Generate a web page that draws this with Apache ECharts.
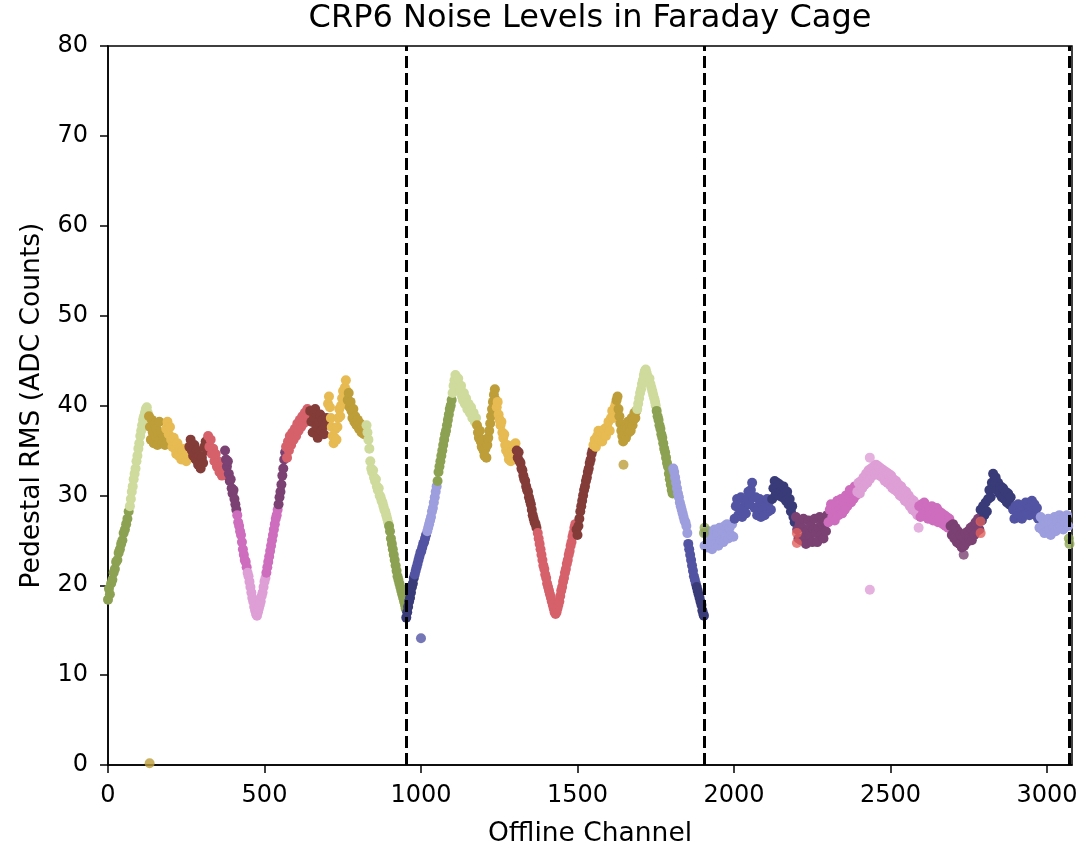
<!DOCTYPE html>
<html><head><meta charset="utf-8">
<script src="https://cdn.jsdelivr.net/npm/echarts@6/dist/echarts.min.js"></script>
<style>html,body{margin:0;padding:0;background:#fff}#chart{width:1089px;height:847px}</style>
</head><body><div id="chart"></div>
<script>
const chartTitle = 'CRP6 Noise Levels in Faraday Cage';
const xName = 'Offline Channel';
const yName = 'Pedestal RMS (ADC Counts)';
const viewBoundaries = [952, 1904, 3072];

// colour groups: first channel of each group and its group name
const groupStarts = [0,68,130,185,258,318,372,412,445,505,545,568,645,702,765,825,898,
  952,980,1020,1052,1101,1178,1242,1305,1373,1496,1550,1624,1690,1752,1805,1853,1880,
  1905,2000,2120,2196,2300,2392,2590,2690,2786,2890,2975];
const groupNames = ['olive','lightgreen','gold','yellow','darkred','red','purple','pink','lightpink','pink','purple','red','darkred','yellow','gold','lightgreen','olive',
  'navy','blue','lightblue','olive','lightgreen','gold','yellow','darkred','red','darkred','yellow','gold','lightgreen','olive','lightblue','blue','navy',
  'lightblue','blue','navy','purple','pink','lightpink','pink','purple','navy','blue','lightblue'];

// [channel, RMS]
const view1 = [
[0,18.4],[3,19.6],[6,19.0],[10,20.2],[14,20.6],[18,21.4],[22,21.8],[26,22.6],[30,22.8],[34,23.6],[38,24.0],[42,24.6],[46,25.0],[50,25.8],[54,26.2],[58,26.8],[62,27.4],[66,28.2],
[70,28.8],[73,29.6],[76,30.4],[79,31.0],[82,31.8],[85,32.4],[88,33.0],[91,33.8],[94,34.4],[97,35.2],[100,35.8],[103,36.6],[106,37.2],[109,37.8],[112,38.4],[115,38.8],[118,39.2],[121,39.6],[124,39.8],[127,39.2],
[131,38.8],[134,37.6],[137,36.2],[140,38.4],[143,37.0],[146,35.8],[149,38.0],[152,36.6],[155,37.4],[158,35.6],[161,36.8],[164,38.2],[167,36.2],[170,37.0],[174,35.8],[178,36.6],[182,35.6],
[186,37.4],[190,38.2],[194,36.8],[198,37.6],[202,36.2],[206,35.4],[210,36.4],[214,35.2],[218,34.6],[222,35.8],[226,34.4],[230,35.2],[234,34.0],[238,35.0],[242,34.2],[246,35.2],[250,33.8],[254,34.6],
[260,35.4],[264,36.2],[268,35.0],[272,34.4],[276,35.6],[280,34.0],[284,35.0],[288,33.4],[292,34.4],[296,33.0],[300,34.2],[304,33.6],[308,35.4],[312,36.0],[316,35.0],
[320,36.6],[324,35.4],[328,36.2],[332,34.6],[336,35.2],[340,33.8],[344,34.6],[348,33.2],[352,33.8],[356,32.6],[360,33.2],[364,32.2],[368,32.8],
[374,35.0],[377,34.0],[380,33.2],[383,33.8],[386,32.4],[389,31.6],[392,31.8],[395,30.8],[398,30.2],[401,30.6],[404,29.6],[407,29.0],[410,28.4],
[413,27.8],[416,27.0],[419,26.6],[422,26.0],[425,25.6],[428,24.8],[431,24.0],[434,23.4],[437,22.8],[440,22.6],[443,22.0],
[446,21.4],[449,21.0],[452,20.4],[455,19.8],[458,19.2],[461,18.6],[464,18.2],[467,17.6],[470,17.2],[473,16.8],[476,16.6],[479,17.0],[482,17.4],[485,17.8],[488,18.2],[491,18.8],[494,19.2],[497,19.8],[500,20.4],[503,20.8],
[506,21.4],[509,22.0],[512,22.6],[515,23.2],[518,23.8],[521,24.4],[524,25.0],[527,25.6],[530,26.2],[533,26.8],[536,27.4],[539,27.8],[542,28.4],
[545,29.0],[548,29.8],[551,30.4],[554,31.2],[557,32.2],[560,33.0],[563,34.0],[566,34.8],
[569,35.4],[572,34.2],[575,36.0],[578,35.0],[581,36.6],[585,35.6],[589,37.0],[593,36.2],[597,37.4],[601,36.6],[605,38.0],[609,37.2],[613,38.4],[617,37.6],[621,38.8],[625,38.0],[629,39.2],[633,38.4],[637,39.6],[641,38.6],
[646,39.4],[650,38.2],[654,37.0],[658,38.6],[662,39.6],[666,37.6],[670,36.4],[674,38.2],[678,39.0],[682,37.2],[686,38.4],[690,36.8],[694,37.8],[698,38.6],
[703,40.2],[706,41.0],[709,39.8],[712,38.6],[715,37.6],[718,36.6],[721,35.8],[724,36.4],[727,37.4],[730,36.2],[733,37.6],[736,38.6],[739,39.6],[742,38.8],[745,40.0],[748,40.8],[751,41.6],[754,40.6],[757,42.0],[760,42.8],[763,41.6],
[766,40.6],[769,41.4],[772,39.8],[775,40.4],[778,39.4],[781,38.6],[784,39.6],[787,38.2],[790,38.8],[794,37.8],[798,38.4],[802,37.4],[806,38.0],[810,37.0],[814,37.6],[818,36.8],[822,37.4],
[826,37.8],[829,37.0],[832,36.2],[835,35.2],[838,33.8],[841,33.0],[844,32.6],[847,32.8],[850,32.0],[853,31.6],[856,31.8],[859,31.0],[862,30.6],[865,30.8],[868,30.0],[871,29.8],[874,29.4],[877,29.2],[880,28.8],[883,28.4],[886,28.2],[889,27.8],[892,27.4],[895,27.0],
[898,26.6],[901,26.0],[904,25.2],[907,24.6],[910,24.0],[913,23.4],[916,22.8],[919,22.2],[922,21.6],[925,21.0],[928,20.6],[931,20.2],[934,19.8],[937,19.4],[940,19.0],[943,18.6],[946,18.2],[949,17.8],[951,17.4]
];
const view2 = [
[953,16.4],[956,17.0],[959,17.6],[962,18.2],[965,18.6],[968,19.2],[971,19.8],[974,20.2],[977,20.8],
[980,21.2],[983,21.6],[986,22.0],[989,22.4],[992,22.8],[995,23.2],[998,23.6],[1001,23.8],[1004,24.2],[1007,24.6],[1010,24.8],[1013,25.2],[1016,25.6],
[1020,26.0],[1023,26.4],[1026,26.8],[1029,27.2],[1032,27.6],[1035,28.2],[1038,28.6],[1041,29.2],[1044,29.8],[1047,30.4],[1050,31.0],
[1053,31.6],[1056,32.6],[1059,33.2],[1062,33.8],[1065,34.4],[1068,35.0],[1071,35.6],[1074,36.2],[1077,36.8],[1080,37.2],[1083,37.8],[1086,38.4],[1089,39.0],[1092,39.6],[1095,40.0],[1098,40.6],
[1101,41.4],[1104,42.2],[1107,42.8],[1110,43.4],[1113,43.0],[1116,42.4],[1119,43.0],[1122,42.0],[1125,41.6],[1128,42.2],[1131,41.0],[1134,40.6],[1137,41.4],[1140,40.2],[1144,40.8],[1148,39.6],[1152,40.2],[1156,39.2],[1160,39.8],[1164,38.6],[1168,39.2],[1172,38.2],[1176,38.6],
[1179,37.8],[1182,37.0],[1185,36.4],[1188,37.2],[1191,36.0],[1194,35.4],[1197,36.2],[1200,35.0],[1203,34.4],[1206,35.2],[1209,34.2],[1212,35.6],[1215,36.4],[1218,37.2],[1221,38.0],[1224,38.8],[1227,39.6],[1230,40.4],[1233,41.2],[1236,41.8],[1239,40.6],
[1242,39.8],[1245,40.4],[1248,39.0],[1251,38.4],[1254,37.8],[1257,38.2],[1260,37.0],[1263,36.4],[1266,36.8],[1269,35.6],[1272,35.0],[1275,35.6],[1278,34.6],[1281,34.0],[1284,34.8],[1287,33.8],[1290,34.2],[1293,35.0],[1296,35.6],[1299,34.6],[1302,35.8],
[1306,35.0],[1309,34.2],[1312,34.8],[1315,33.8],[1318,33.6],[1321,33.0],[1324,32.8],[1327,32.2],[1330,31.8],[1333,31.6],[1336,31.0],[1339,30.6],[1342,30.4],[1345,29.8],[1348,29.4],[1351,29.0],[1354,28.4],[1357,27.8],[1360,27.4],[1363,27.0],[1366,26.8],[1369,26.4],
[1373,25.8],[1376,25.2],[1379,24.6],[1382,24.0],[1385,23.4],[1388,22.8],[1391,22.2],[1394,21.8],[1397,21.2],[1400,20.8],[1403,20.2],[1406,19.8],[1409,19.4],[1412,19.0],[1415,18.6],[1418,18.2],[1421,17.8],[1424,17.4],[1427,17.0],[1430,16.8],[1433,17.0],[1436,17.4],[1439,17.8],[1442,18.2],[1445,18.8],[1448,19.4],[1451,19.8],[1454,20.4],[1457,20.8],[1460,21.4],[1463,21.8],[1466,22.4],[1469,22.8],[1472,23.4],[1475,23.8],[1478,24.4],[1481,24.8],[1484,25.4],[1487,25.8],[1490,26.4],[1493,26.8],
[1497,26.2],[1500,25.6],[1503,26.6],[1506,27.4],[1509,28.2],[1512,28.8],[1515,29.4],[1518,30.0],[1521,30.6],[1524,31.0],[1527,31.6],[1530,32.0],[1533,32.6],[1536,33.0],[1539,33.6],[1542,34.0],[1545,34.6],[1548,35.0],
[1551,35.6],[1555,36.2],[1559,35.4],[1563,36.6],[1567,37.2],[1571,36.2],[1575,37.0],[1579,36.0],[1583,36.8],[1587,37.4],[1591,36.6],[1595,37.6],[1599,38.2],[1603,37.2],[1607,38.6],[1611,39.4],[1615,38.6],[1619,39.8],[1622,40.2],
[1625,40.6],[1628,41.0],[1631,39.6],[1634,38.8],[1637,38.0],[1640,37.2],[1643,36.6],[1646,36.0],[1649,36.8],[1652,37.6],[1655,36.4],[1658,37.4],[1661,38.2],[1664,37.0],[1667,38.0],[1670,37.2],[1673,38.6],[1676,37.8],[1679,38.4],[1682,39.2],[1685,38.6],[1688,39.4],
[1691,39.6],[1694,40.2],[1697,40.8],[1700,41.4],[1703,41.8],[1706,42.4],[1709,42.8],[1712,43.4],[1715,43.8],[1718,44.0],[1721,43.6],[1724,43.2],[1727,42.8],[1730,43.0],[1733,42.4],[1736,42.0],[1739,41.6],[1742,41.2],[1745,40.8],[1748,40.4],[1750,40.0],
[1753,39.4],[1756,38.8],[1759,38.4],[1762,37.8],[1765,37.4],[1768,36.8],[1771,36.4],[1774,35.8],[1777,35.2],[1780,34.8],[1783,34.2],[1786,33.6],[1789,33.2],[1792,32.4],[1795,31.8],[1798,31.2],[1801,30.6],[1804,30.2],
[1806,33.0],[1809,32.6],[1812,32.0],[1815,31.4],[1818,30.8],[1821,30.2],[1824,29.8],[1827,29.2],[1830,28.8],[1833,28.4],[1836,28.0],[1839,27.6],[1842,27.2],[1845,27.0],[1848,26.6],[1851,25.8],
[1854,24.6],[1857,24.0],[1860,23.4],[1863,22.8],[1866,22.2],[1869,21.6],[1872,21.0],[1875,20.6],[1878,20.2],
[1881,19.8],[1884,19.4],[1887,19.0],[1890,18.6],[1893,18.2],[1896,17.8],[1899,17.2],[1902,16.8],[1904,16.6]
];
const view3 = [
[1906,24.4],[1910,25.8],[1914,24.2],[1918,26.0],[1922,24.8],[1926,25.6],[1930,24.0],[1934,25.4],[1938,26.2],[1942,24.6],[1946,25.8],[1950,24.4],[1954,26.4],[1958,25.0],[1962,26.0],[1966,24.8],[1970,26.6],[1974,25.4],[1978,26.8],[1982,25.2],[1986,26.4],[1990,25.6],[1994,26.8],[1998,25.4],
[2002,27.4],[2006,28.8],[2010,29.6],[2014,27.8],[2018,28.6],[2022,29.8],[2026,27.6],[2030,28.4],[2034,29.4],[2038,28.0],[2042,29.6],[2046,30.4],[2050,29.0],[2054,30.6],[2058,31.4],[2062,29.8],[2066,28.6],[2070,29.8],[2074,27.8],[2078,28.8],[2082,29.6],[2086,27.6],[2090,28.4],[2094,29.4],[2098,27.8],[2102,28.8],[2106,29.6],[2110,28.2],[2114,29.4],[2118,28.4],
[2122,29.6],[2126,30.8],[2130,31.6],[2134,30.2],[2138,31.4],[2142,30.0],[2146,31.2],[2150,30.4],[2154,29.8],[2158,31.0],[2162,30.2],[2166,29.4],[2170,30.4],[2174,29.0],[2178,29.6],[2182,28.2],[2186,28.8],[2190,27.6],[2194,27.0],
[2198,27.6],[2202,26.2],[2206,25.2],[2210,26.8],[2214,25.0],[2218,26.4],[2222,27.4],[2226,25.4],[2230,24.6],[2234,26.0],[2238,27.2],[2242,25.6],[2246,26.6],[2250,24.8],[2254,26.2],[2258,27.4],[2262,25.8],[2266,24.8],[2270,26.4],[2274,27.6],[2278,25.6],[2282,26.8],[2286,25.2],[2290,27.0],[2294,26.0],[2298,27.8],
[2302,27.0],[2306,28.4],[2310,29.0],[2314,27.6],[2318,28.8],[2322,27.2],[2326,28.4],[2330,29.4],[2334,27.8],[2338,28.6],[2342,29.6],[2346,28.0],[2350,29.2],[2354,28.4],[2358,30.0],[2362,28.8],[2366,29.6],[2370,30.6],[2374,29.2],[2378,30.4],[2382,29.6],[2386,31.0],[2390,30.0],
[2394,30.4],[2398,31.4],[2402,30.2],[2406,31.6],[2410,30.8],[2414,32.0],[2418,31.2],[2422,32.4],[2426,31.4],[2430,32.8],[2434,31.8],[2438,33.0],[2442,32.2],[2446,33.2],[2450,32.4],[2454,33.4],[2458,32.6],[2462,33.2],[2466,32.2],[2470,33.0],[2474,32.0],[2478,32.8],[2482,31.6],[2486,32.6],[2490,31.4],[2494,32.4],[2498,31.2],[2502,32.2],[2506,30.8],[2510,31.8],[2514,30.6],[2518,31.6],[2522,30.4],[2526,31.2],[2530,30.0],[2534,31.0],[2538,29.8],[2542,30.6],[2546,29.4],[2550,30.4],[2554,29.2],[2558,30.0],[2562,28.8],[2566,29.6],[2570,28.4],[2574,29.4],[2578,28.2],[2582,29.0],[2586,27.8],
[2592,28.8],[2596,27.6],[2600,29.0],[2604,28.0],[2608,29.2],[2612,27.8],[2616,28.8],[2620,27.4],[2624,28.6],[2628,27.8],[2632,28.8],[2636,27.2],[2640,28.4],[2644,27.6],[2648,28.6],[2652,27.0],[2656,28.2],[2660,27.2],[2664,28.0],[2668,26.8],[2672,27.8],[2676,26.6],[2680,27.6],[2684,26.4],[2688,27.4],
[2692,26.6],[2696,25.6],[2700,26.8],[2704,25.2],[2708,26.4],[2712,24.8],[2716,26.0],[2720,24.6],[2724,25.6],[2728,24.2],[2732,25.4],[2736,24.4],[2740,25.8],[2744,24.8],[2748,26.0],[2752,25.2],[2756,26.4],[2760,25.0],[2764,26.6],[2768,25.6],[2772,27.0],[2776,26.0],[2780,27.4],[2784,26.2],
[2788,28.4],[2792,27.2],[2796,28.8],[2800,27.8],[2804,29.2],[2808,28.2],[2812,29.6],[2816,30.6],[2820,29.8],[2824,31.4],[2828,32.4],[2832,31.2],[2836,32.0],[2840,30.6],[2844,31.4],[2848,30.2],[2852,31.0],[2856,29.8],[2860,30.8],[2864,29.6],[2868,30.4],[2872,29.2],[2876,30.2],[2880,29.0],[2884,29.8],[2888,28.8],
[2892,28.4],[2896,27.4],[2900,28.8],[2904,27.6],[2908,29.0],[2912,27.8],[2916,28.6],[2920,27.4],[2924,28.8],[2928,27.8],[2932,29.2],[2936,28.0],[2940,29.0],[2944,27.8],[2948,28.8],[2952,29.4],[2956,28.2],[2960,29.0],[2964,27.8],[2968,28.6],[2972,27.4],
[2976,26.4],[2980,27.6],[2984,26.2],[2988,27.2],[2992,25.8],[2996,27.0],[3000,26.0],[3004,27.4],[3008,26.2],[3012,25.6],[3016,27.0],[3020,26.4],[3024,27.6],[3028,26.0],[3032,27.2],[3036,26.4],[3040,27.8],[3044,26.6],[3048,27.4],[3052,26.2],[3056,27.6],[3060,26.8],[3064,27.8],[3068,26.6]
];
// isolated points with their own group: [channel, RMS, group]
const specialPoints = [
[133,0.2,'gold'],[1000,14.1,'blue'],[1647,33.4,'gold'],
[1904,25.8,'olive'],[1906,26.4,'olive'],[3070,25.2,'olive'],[3072,24.6,'olive'],
[2201,25.8,'red2'],[2201,24.7,'red2'],[2788,27.1,'red2'],[2788,25.8,'red2'],
[2434,34.2,'lightpink'],[2434,19.5,'lightpink'],[2590,26.4,'lightpink'],[2734,23.4,'purple']
];

const palette = {navy:'#393b79', blue:'#5254a3', lightblue:'#9c9ede', olive:'#8ca252', lightgreen:'#cedb9c',
  gold:'#bd9e39', yellow:'#e7ba52', darkred:'#843c39', red:'#d6616b', red2:'#e2605c', purple:'#7b4173',
  pink:'#ce6dbd', lightpink:'#de9ed6'};

function groupIndex(ch){ let g = 0; for (let i = 0; i < groupStarts.length; i++) if (ch >= groupStarts[i]) g = i; return g; }

const segments = groupStarts.map(() => []);
[...view1, ...view2, ...view3].forEach(p => segments[groupIndex(p[0])].push([p[0], p[1]]));

const FONT = 'DejaVu Sans';
const SYM = 10;
const series = segments.map((d, i) => ({
  type: 'scatter', data: d, symbolSize: SYM, clip: false,
  itemStyle: {color: palette[groupNames[i]], opacity: 1}, silent: true
}));
const byGroup = {};
specialPoints.forEach(p => { (byGroup[p[2]] = byGroup[p[2]] || []).push([p[0], p[1]]); });
Object.keys(byGroup).forEach(g => series.push({type:'scatter', data: byGroup[g], symbolSize: SYM, clip:false,
  itemStyle:{color: palette[g]}, silent:true}));
series.push({
  type: 'scatter', data: [], z: 10, silent: true,
  markLine: {silent: true, symbol: 'none', label: {show: false},
    lineStyle: {color: '#000', type: [12, 5], width: 3},
    data: viewBoundaries.map(v => ({xAxis: v}))}
});

const chart = echarts.init(document.getElementById('chart'), null, {renderer: 'canvas'});
chart.setOption({
  animation: false,
  backgroundColor: '#fff',
  title: {text: chartTitle, left: 590, textAlign: 'center', top: 3, padding: 0,
    textStyle: {fontFamily: FONT, fontSize: 32, fontWeight: 'normal', color: '#000'}},
  grid: {left: 108, right: 17, top: 46, bottom: 82, show: true, borderColor: '#000', borderWidth: 1.5,
    outerBoundsMode: 'none', containLabel: false},
  xAxis: {type: 'value', min: 0, max: 3080, interval: 500,
    name: xName, nameLocation: 'middle', nameGap: 56,
    nameTextStyle: {fontFamily: FONT, fontSize: 26.5, color: '#000'},
    axisLine: {show: true, lineStyle: {color: '#000', width: 1.5}},
    axisTick: {show: true, length: 8, lineStyle: {color: '#000', width: 1.5}},
    axisLabel: {fontFamily: FONT, fontSize: 24, color: '#000', margin: 19, showMaxLabel: false,
      formatter: v => String(v)},
    splitLine: {show: false}},
  yAxis: {type: 'value', min: 0, max: 80, interval: 10,
    name: yName, nameLocation: 'middle', nameGap: 62, nameRotate: 90,
    nameTextStyle: {fontFamily: FONT, fontSize: 26.5, color: '#000'},
    axisLine: {show: true, lineStyle: {color: '#000', width: 1.5}},
    axisTick: {show: true, length: 8, lineStyle: {color: '#000', width: 1.5}},
    axisLabel: {fontFamily: FONT, fontSize: 24, color: '#000', margin: 20, formatter: v => String(v)},
    splitLine: {show: false}},
  series: series
});
</script></body></html>
